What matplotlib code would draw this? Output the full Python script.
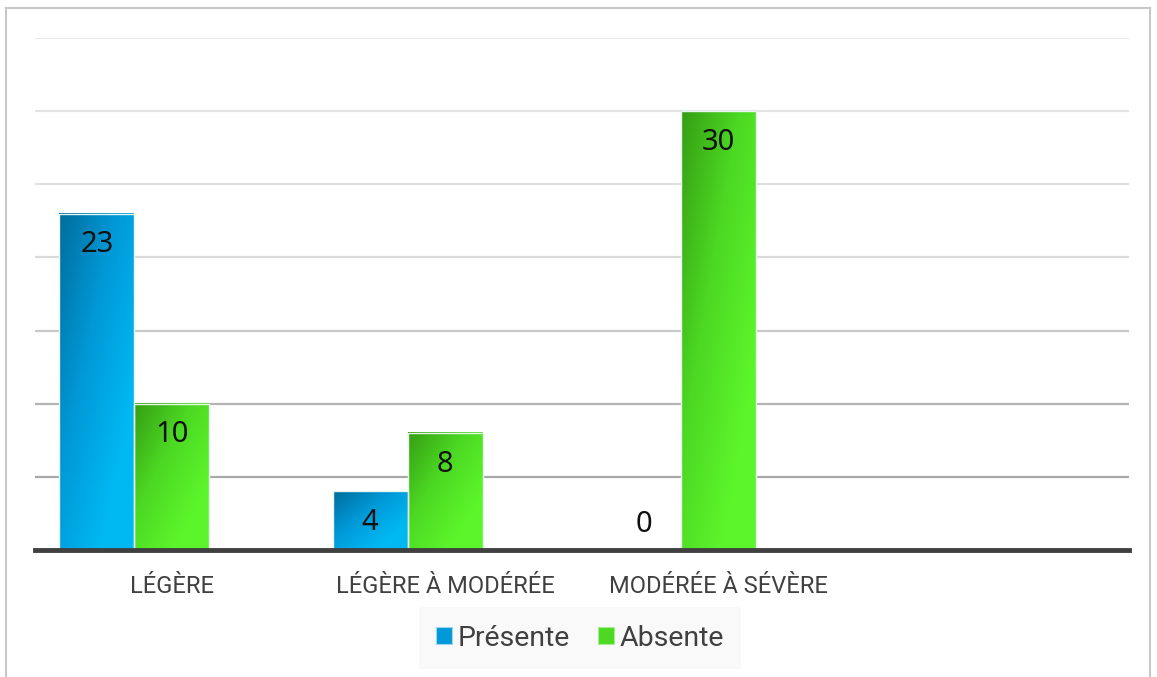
import numpy as np
import matplotlib.pyplot as plt
from matplotlib.patches import Rectangle
from matplotlib.colors import LinearSegmentedColormap

# ---------------- DATA ----------------
categories = ["LÉGÈRE", "LÉGÈRE À MODÉRÉE", "MODÉRÉE À SÉVÈRE", ""]
presente = [23, 4, 0]
absente = [10, 8, 30]
series_names = ["Présente", "Absente"]

# ---------------- STYLE ----------------
blue_cm = LinearSegmentedColormap.from_list("b", ["#006d9c", "#0098d6", "#00b8f2"])
green_cm = LinearSegmentedColormap.from_list("g", ["#369e14", "#4cd823", "#5cf52b"])
text_col = "#404040"

fig = plt.figure(figsize=(11.57, 6.77), dpi=100)
W, H = 1157, 677

# outer frame
fig.patches.append(Rectangle((6 / W, -0.01), (1150 - 6) / W, 1 - 8 / H + 0.01,
                             transform=fig.transFigure, fill=False,
                             edgecolor="#c8c8c8", lw=1.5))

ax = fig.add_axes([35 / W, 1 - 550 / H, (1129 - 35) / W, (550 - 38) / H])
ax.set_xlim(-0.5, 3.5)
ax.set_ylim(0, 35)

# gridlines, darker towards the bottom
grid_vals = [5, 10, 15, 20, 25, 30, 35]
grid_cols = ["#a8a8a8", "#b4b4b4", "#c8c8c8", "#dadada", "#e0e0e0", "#e4e4e4", "#e8e8e8"]
for g, c in zip(grid_vals, grid_cols):
    ax.axhline(g, color=c, lw=1.6, zorder=0)

for s in ax.spines.values():
    s.set_visible(False)
ax.axhline(0, color="#404040", lw=3.5, zorder=5, clip_on=False)

bw = 75 / 273.5
x = np.arange(len(categories))

# diagonal gradient image
u = np.linspace(0, 1, 60)[None, :]
v = np.linspace(0, 1, 120)[:, None]
grad = np.clip((u + v) / 2 * 1.3, 0, 1)


def draw_bars(xs, vals, cmap):
    for xi, val in zip(xs, vals):
        if val <= 0:
            continue
        ax.imshow(grad, cmap=cmap, extent=(xi - bw / 2, xi + bw / 2, 0, val),
                  aspect="auto", origin="upper", zorder=2, interpolation="bilinear")
        ax.add_patch(Rectangle((xi - bw / 2, 0), bw, val, fill=False,
                               edgecolor="#e8f6ee", lw=1, zorder=3))


def draw_labels(xs, vals):
    for xi, val in zip(xs, vals):
        if val > 0:
            ax.annotate(str(val), (xi, val), xytext=(0, -22.5), textcoords="offset points",
                        ha="center", va="center", fontsize=21, family="Noto Sans",
                        color="#111111", zorder=6)
        else:
            ax.annotate(str(val), (xi, 0), xytext=(0, 18), textcoords="offset points",
                        ha="center", va="center", fontsize=21, family="Noto Sans",
                        color="#111111", zorder=6)


draw_bars(x[:3] - bw, presente, blue_cm)
draw_bars(x[:3], absente, green_cm)
draw_labels(x[:3] - bw, presente)
draw_labels(x[:3], absente)

ax.set_xticks(x)
ax.set_xticklabels(categories, fontsize=17, family="Roboto", color=text_col)
ax.tick_params(axis="x", length=0, pad=18)
ax.set_yticks([])

# legend
handles = [Rectangle((0, 0), 1, 1, facecolor=blue_cm(0.5), edgecolor="#9fd6f0", lw=0.8),
           Rectangle((0, 0), 1, 1, facecolor=green_cm(0.5), edgecolor="#a6ee8e", lw=0.8)]
leg = fig.legend(handles, series_names, loc="center", bbox_to_anchor=(580 / W, 1 - 638 / H),
                 ncol=2, frameon=True, fancybox=False, prop={"family": "Roboto", "size": 20.5},
                 handlelength=0.55, handleheight=0.55, handletextpad=0.2, columnspacing=1.0,
                 borderpad=0.6, borderaxespad=0)
leg.get_frame().set_facecolor("#f8f8f8")
leg.get_frame().set_edgecolor("none")
for t in leg.get_texts():
    t.set_color(text_col)

fig.savefig("out.png", dpi=100)
